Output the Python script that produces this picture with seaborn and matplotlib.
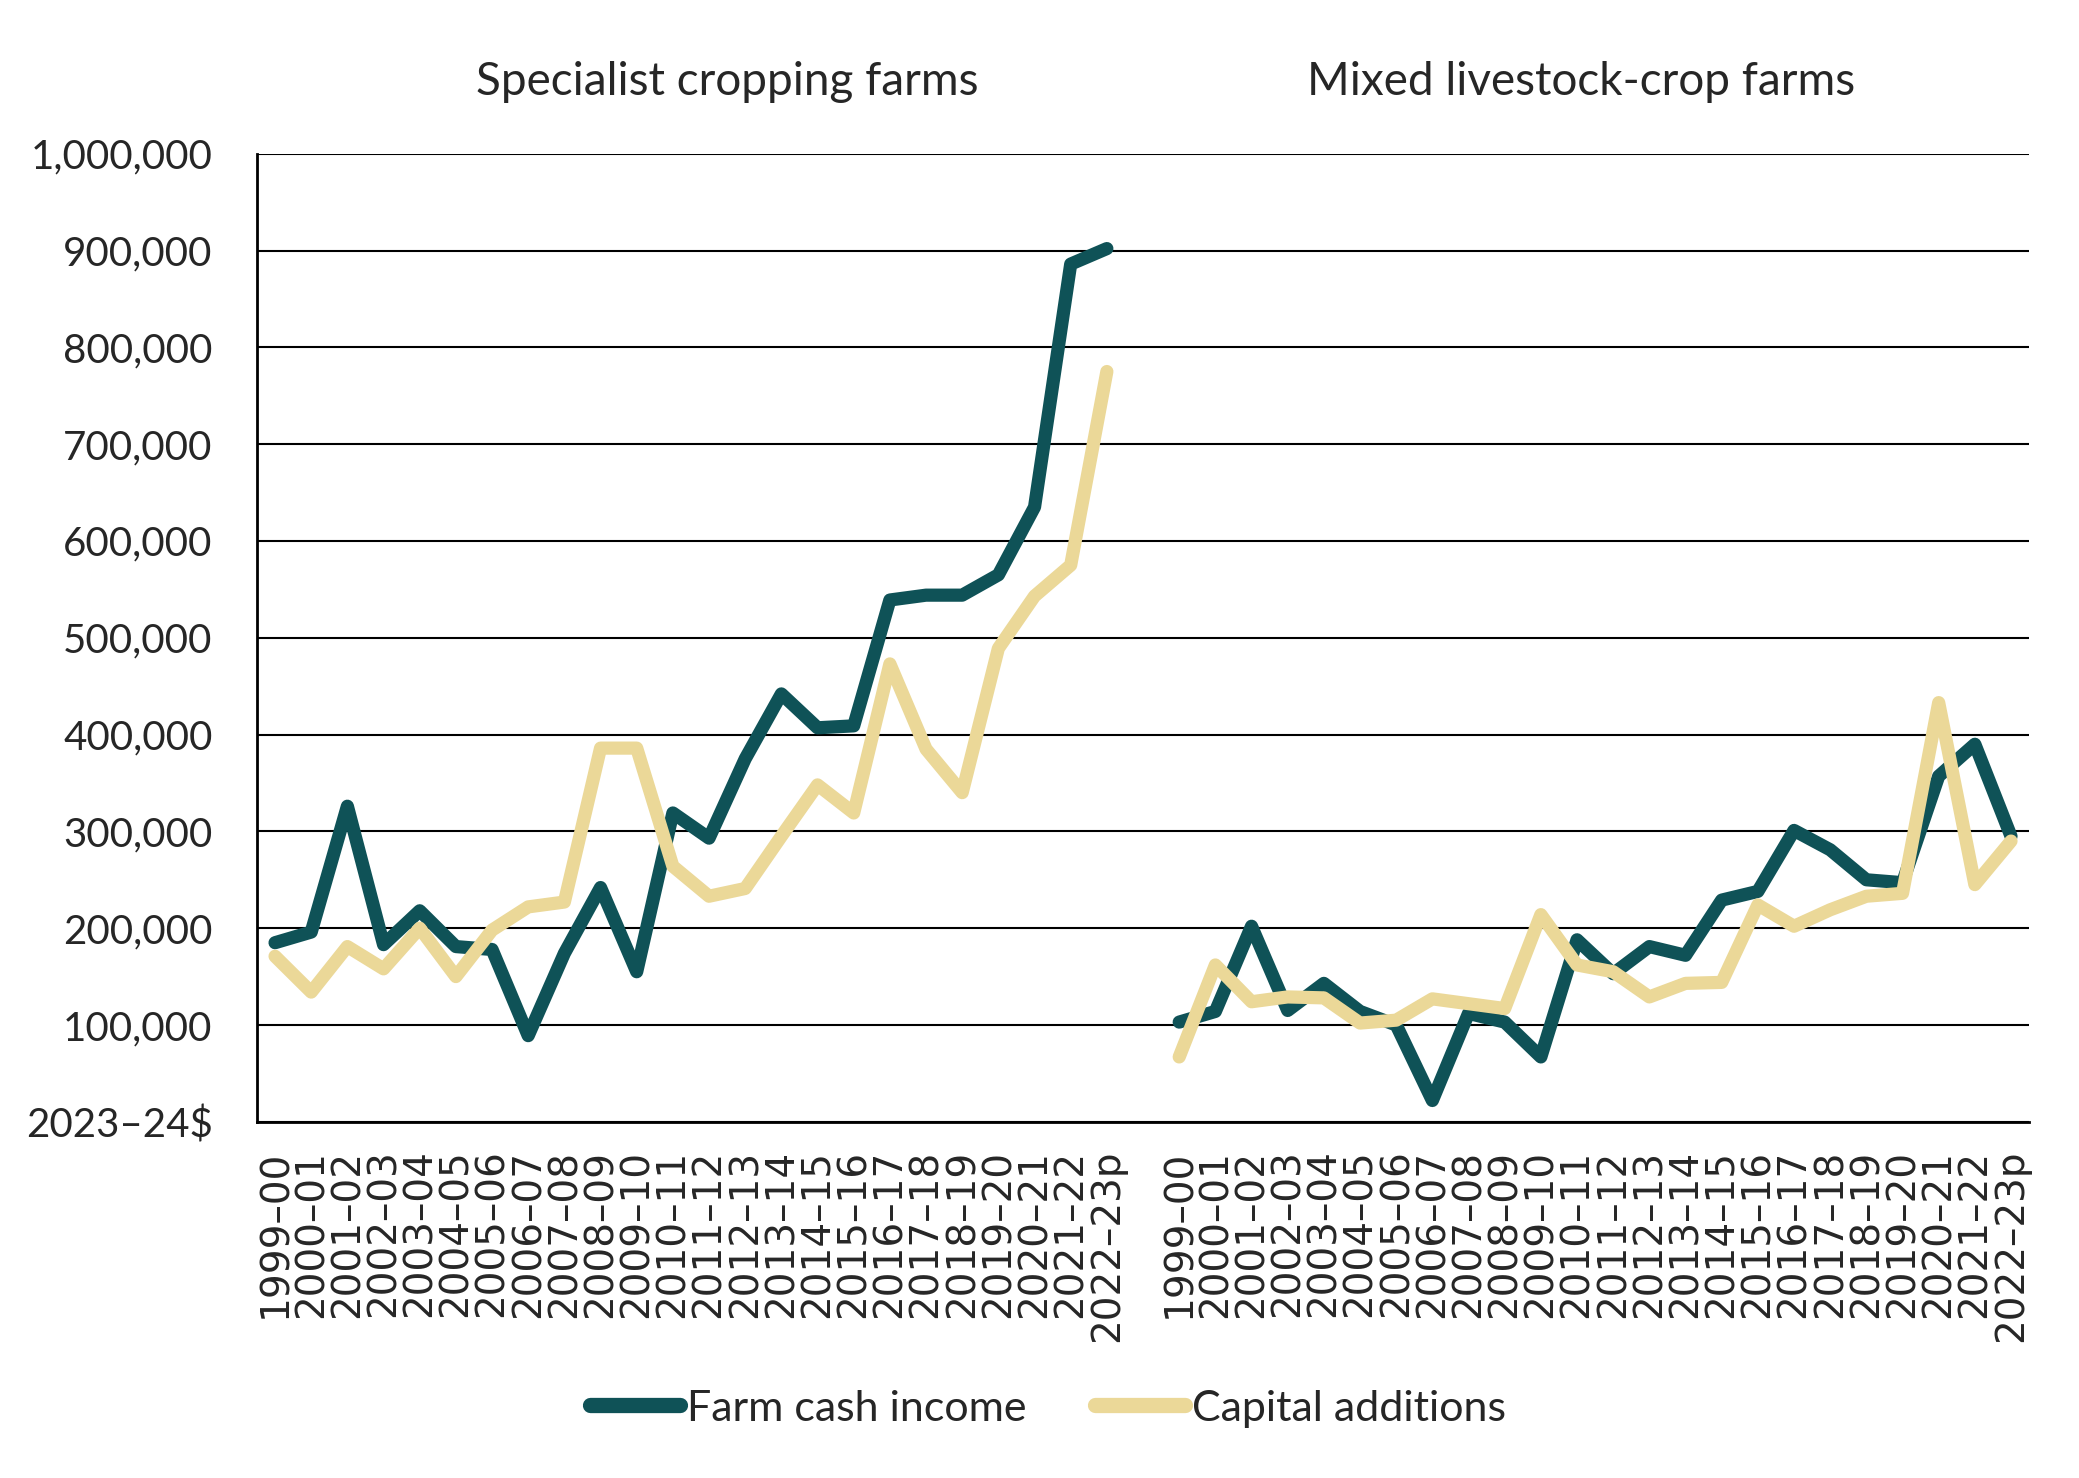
import matplotlib
matplotlib.use("Agg")
import matplotlib.pyplot as plt
import seaborn as sns
import numpy as np
import pandas as pd
from matplotlib.lines import Line2D

years = ["1999–00", "2000–01", "2001–02", "2002–03", "2003–04", "2004–05",
         "2005–06", "2006–07", "2007–08", "2008–09", "2009–10", "2010–11",
         "2011–12", "2012–13", "2013–14", "2014–15", "2015–16", "2016–17",
         "2017–18", "2018–19", "2019–20", "2020–21", "2021–22", "2022–23p"]

groups = ["Specialist cropping farms", "Mixed livestock-crop farms"]
series_names = ["Farm cash income", "Capital additions"]

crop_income = [185000, 196000, 326000, 183000, 218000, 181000, 178000, 89000,
               174000, 242000, 155000, 319000, 293000, 375000, 442000, 407000,
               409000, 539000, 544000, 544000, 565000, 635000, 886000, 902000]
crop_capital = [171000, 134000, 181000, 158000, 200000, 150000, 198000, 222000,
                227000, 386000, 386000, 264000, 233000, 241000, 295000, 348000,
                319000, 473000, 385000, 340000, 489000, 543000, 575000, 775000]

mixed_income = [103000, 114000, 202000, 115000, 143000, 114000, 100000, 22000,
                112000, 103000, 67000, 188000, 153000, 181000, 172000, 229000,
                238000, 301000, 281000, 250000, 247000, 357000, 390000, 295000]
mixed_capital = [67000, 162000, 124000, 129000, 128000, 102000, 105000, 127000,
                 122000, 117000, 214000, 162000, 155000, 129000, 143000, 144000,
                 224000, 202000, 219000, 233000, 236000, 433000, 245000, 290000]

y_ticks = [0, 100000, 200000, 300000, 400000, 500000, 600000, 700000, 800000,
           900000, 1000000]
y_labels = ["2023–24$", "100,000", "200,000", "300,000", "400,000", "500,000",
            "600,000", "700,000", "800,000", "900,000", "1,000,000"]

colors = {"Farm cash income": "#0F5257", "Capital additions": "#EBD898"}

sns.set_theme(style="white")
plt.rcParams['font.family'] = ['Lato', 'DejaVu Sans']

n = len(years)
gap = 1
rows = []
for g, (inc, cap) in enumerate([(crop_income, crop_capital), (mixed_income, mixed_capital)]):
    for i in range(n):
        pos = g * (n + gap) + i
        rows.append({"pos": pos, "group": groups[g], "series": series_names[0], "value": inc[i]})
        rows.append({"pos": pos, "group": groups[g], "series": series_names[1], "value": cap[i]})
df = pd.DataFrame(rows)

fig = plt.figure(figsize=(20.79, 14.78), dpi=100)
ax = fig.add_axes([0.1236, 0.241, 0.8524, 0.655])

for s in series_names:
    for g in groups:
        sub = df[(df["series"] == s) & (df["group"] == g)]
        sns.lineplot(data=sub, x="pos", y="value", color=colors[s], linewidth=9.5,
                     ax=ax, legend=False, estimator=None,
                     solid_capstyle="round", solid_joinstyle="round")

ax.set_xlim(-0.5, 2 * n + gap - 0.5)
ax.set_ylim(0, 1000000)
ax.set_yticks(y_ticks)
ax.set_yticklabels(y_labels, fontsize=29)
ax.tick_params(axis="y", length=0, pad=32)

xpos = list(range(n)) + list(range(n + gap, 2 * n + gap))
ax.set_xticks(xpos)
ax.set_xticklabels(years + years, rotation=90, fontsize=28,
                   family=["DejaVu Sans"])
ax.tick_params(axis="x", length=0, pad=20)
ax.set_xlabel("")
ax.set_ylabel("")

ax.grid(axis="y", color="black", linewidth=1.5)
ax.grid(axis="x", visible=False)
ax.set_axisbelow(True)
for side in ["top", "right"]:
    ax.spines[side].set_visible(False)
ax.spines["left"].set_color("black")
ax.spines["left"].set_linewidth(2)
ax.spines["bottom"].set_color("black")
ax.spines["bottom"].set_linewidth(2)

trans = ax.get_xaxis_transform()
ax.text(12.5, 1.074, groups[0], transform=trans, ha="center", va="center", fontsize=33)
ax.text(36.1, 1.074, groups[1], transform=trans, ha="center", va="center", fontsize=33)

handles = [Line2D([0], [0], color=colors[s], linewidth=11, solid_capstyle="round")
           for s in series_names]
fig.legend(handles, series_names, loc="center", bbox_to_anchor=(0.504, 0.047),
           ncol=2, frameon=False, fontsize=31, handlelength=2.1,
           handletextpad=0.15, columnspacing=1.6)

fig.savefig("out.png", dpi=100)
